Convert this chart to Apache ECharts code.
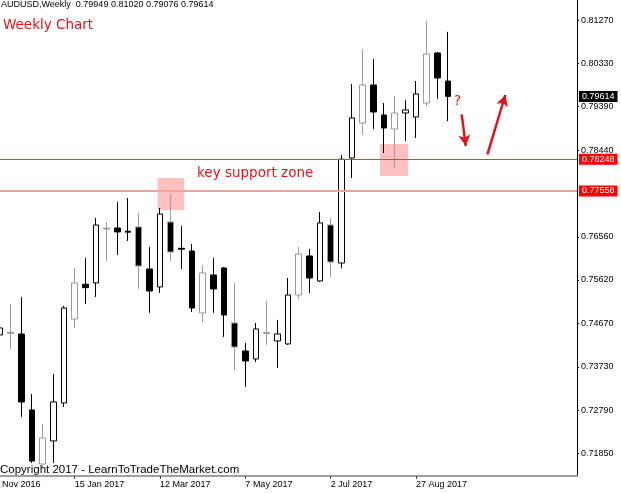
<!DOCTYPE html>
<html>
<head>
<meta charset="utf-8">
<script src="https://cdn.jsdelivr.net/npm/echarts@6/dist/echarts.min.js"></script>
<style>
  html, body { margin: 0; padding: 0; background: #fff; }
  #chart { width: 621px; height: 494px; }
</style>
</head>
<body>
<div id="chart"></div>
<script>
  // weekly AUDUSD candles, first one is the week of 27 Nov 2016
  var openP  = [0.74424, 0.74480, 0.74446, 0.72793, 0.71618, 0.72119, 0.72945, 0.74772, 0.75527, 0.75556,
                0.76745, 0.76752, 0.76680, 0.76774, 0.75860, 0.75469, 0.76882, 0.76310, 0.76252, 0.74903,
                0.75730, 0.75882, 0.74685, 0.74076, 0.73902, 0.74475, 0.74294, 0.74229, 0.75294, 0.76143,
                0.75599, 0.76817, 0.75990, 0.78275, 0.79036, 0.79863, 0.79210, 0.78905, 0.79253, 0.79166,
                0.79471, 0.80559, 0.79949];
  var closeP = [0.74577, 0.74460, 0.72967, 0.71683, 0.72184, 0.72967, 0.75012, 0.75556, 0.75453, 0.76817,
                0.76730, 0.76665, 0.76660, 0.75925, 0.75381, 0.77056, 0.76230, 0.76290, 0.75012, 0.75773,
                0.75425, 0.74859, 0.74163, 0.73859, 0.74555, 0.74460, 0.74446, 0.75294, 0.76186, 0.75664,
                0.76861, 0.76012, 0.78248, 0.79145, 0.79863, 0.79275, 0.78927, 0.79253, 0.79319, 0.79667,
                0.80537, 0.80015, 0.79614];
  var lowP   = [0.73707, 0.74120, 0.72641, 0.71640, 0.71553, 0.71640, 0.72858, 0.74577, 0.75099, 0.75251,
                0.76034, 0.76165, 0.76469, 0.75425, 0.74903, 0.75338, 0.76034, 0.75860, 0.74925, 0.74707,
                0.74903, 0.74381, 0.73663, 0.73293, 0.73837, 0.74207, 0.73707, 0.74207, 0.75207, 0.75338,
                0.75577, 0.75686, 0.75875, 0.77840, 0.78775, 0.78905, 0.78383, 0.78057, 0.78644, 0.78710,
                0.79406, 0.79558, 0.79076];
  var highP  = [0.74968, 0.75099, 0.75251, 0.73141, 0.72488, 0.73576, 0.75056, 0.75882, 0.76099, 0.76970,
                0.76882, 0.77317, 0.77404, 0.77078, 0.76339, 0.77187, 0.77491, 0.76795, 0.76404, 0.75947,
                0.76099, 0.75900, 0.75556, 0.74250, 0.74685, 0.75164, 0.74751, 0.75664, 0.76339, 0.76295,
                0.77100, 0.76970, 0.78340, 0.79884, 0.80646, 0.80428, 0.79471, 0.79623, 0.79536, 0.79950,
                0.81255, 0.80580, 0.81020];

  var priceTicks = [0.81270, 0.80330, 0.79390, 0.78440, 0.76560, 0.75620, 0.74670, 0.73730, 0.72790, 0.71850];
  var weekTicks  = [-1, 7, 15, 23, 31, 39];
  var weekLabels = ['20 Nov 2016', '15 Jan 2017', '12 Mar 2017', '7 May 2017', '2 Jul 2017', '27 Aug 2017'];

  var lastPrice = 0.79614;
  var levels = [0.78248, 0.77558];
  // zones: [week from, price top, week to, price bottom]
  var zones = [[14.78, 0.77840, 17.25, 0.77143], [35.62, 0.78579, 38.25, 0.77883]];
  // arrows: [week from, price from, week to, price to]
  var arrows = [[43.28, 0.79225, 43.66, 0.78536], [45.69, 0.78355, 47.37, 0.79645]];

  var RED = '#e3131b';

  var candles = openP.map(function (o, i) {
    var item = { value: [i, o, closeP[i], lowP[i], highP[i]] };
    if (i % 3 === 1) { // lines look grey in the weekly screenshot
      item.itemStyle = { borderColor: '#9a9a9a', borderColor0: '#9a9a9a' };
    }
    return item;
  });

  var levelLabel = function (bg) {
    return {
      show: true, position: 'end', distance: 2,
      formatter: function (p) { return Number(p.value).toFixed(5); },
      backgroundColor: bg, color: '#fff', padding: [1, 3, 1, 3],
      fontSize: 9, fontFamily: 'Liberation Sans'
    };
  };

  var lineData = [
    { yAxis: levels[0], lineStyle: { color: '#e83a3a', width: 1, type: 'solid' }, label: levelLabel('#ff0000') },
    { yAxis: levels[1], lineStyle: { color: '#f6a0a0', width: 2, type: 'solid' }, label: levelLabel('#ff0000') },
    { yAxis: lastPrice, lineStyle: { color: 'rgba(255,255,255,0)', width: 0 }, label: levelLabel('#000') }
  ];
  arrows.forEach(function (a) {
    lineData.push([
      { coord: [a[0], a[1]], lineStyle: { color: RED, width: 2.5, type: 'solid' }, label: { show: false } },
      { coord: [a[2], a[3]], symbol: 'arrow', symbolSize: [9, 11] }
    ]);
  });

  var areaData = zones.map(function (z) {
    return [{ coord: [z[0], z[1]] }, { coord: [z[2], z[3]] }];
  });

  var option = {
    animation: false,
    grid: { left: -10.63, right: 44, top: 0, bottom: 18, outerBoundsMode: 'none', containLabel: false },
    xAxis: {
      type: 'value', min: -1, max: 54.09,
      axisLine: { show: true, onZero: false, lineStyle: { color: '#a0a0a0', width: 2 } },
      axisTick: { show: true, customValues: weekTicks, length: 3, lineStyle: { color: '#444' } },
      axisLabel: {
        customValues: weekTicks, align: 'left', margin: 4,
        formatter: function (v) { return weekLabels[weekTicks.indexOf(v)]; },
        color: '#000', fontSize: 9, fontFamily: 'Liberation Sans'
      },
      splitLine: { show: false }
    },
    yAxis: {
      type: 'value', position: 'right', min: 0.713562, max: 0.817116,
      axisLine: { show: true, onZero: false, lineStyle: { color: '#000', width: 1 } },
      axisTick: { show: true, customValues: priceTicks, length: 2, lineStyle: { color: '#000' } },
      axisLabel: {
        customValues: priceTicks, margin: 4,
        formatter: function (v) { return v.toFixed(5); },
        color: '#000', fontSize: 9, fontFamily: 'Liberation Sans'
      },
      splitLine: { show: false }
    },
    series: [{
      type: 'candlestick',
      encode: { x: 0, y: [1, 2, 3, 4] },
      barWidth: 6,
      itemStyle: { color: '#fff', color0: '#000', borderColor: '#000', borderColor0: '#000', borderWidth: 1 },
      data: candles,
      markLine: {
        silent: true, animation: false, precision: 5,
        symbol: 'none',
        data: lineData
      },
      markArea: {
        silent: true,
        itemStyle: { color: 'rgba(255,120,120,0.47)' },
        data: areaData
      }
    }],
    graphic: [
      { type: 'text', left: 1, top: 0, style: { text: 'AUDUSD,Weekly  0.79949 0.81020 0.79076 0.79614', fill: '#000', font: '9px "Liberation Sans"' } },
      { type: 'text', left: 3, top: 18, style: { text: 'Weekly Chart', fill: RED, font: '13.5px "DejaVu Sans"' } },
      { type: 'text', left: 197, top: 166.5, style: { text: 'key support zone', fill: RED, font: '13.5px "DejaVu Sans"' } },
      { type: 'text', left: 454, top: 94.5, style: { text: '?', fill: RED, font: '13.5px "DejaVu Sans"' } },
      { type: 'text', left: 0, top: 463.5, style: { text: 'Copyright 2017 - LearnToTradeTheMarket.com', fill: '#000', font: '11.5px "Liberation Sans"' } }
    ]
  };

  var chart = echarts.init(document.getElementById('chart'));
  chart.setOption(option);
</script>
</body>
</html>
